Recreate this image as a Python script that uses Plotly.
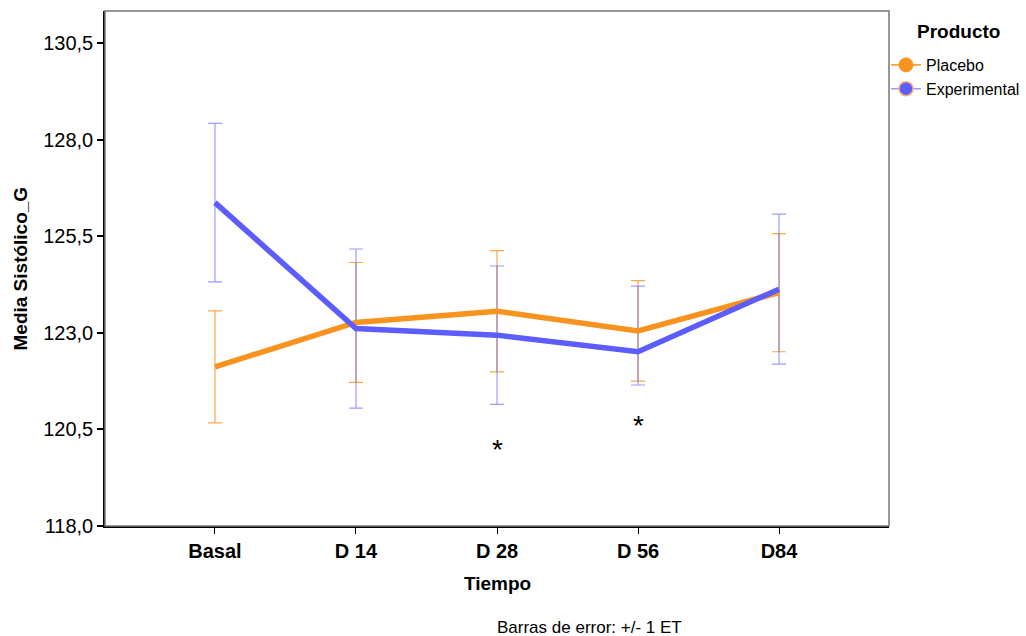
import plotly.graph_objects as go

# Mean systolic pressure by visit, with +/- 1 standard error
categories = ["Basal", "D 14", "D 28", "D 56", "D84"]
placebo_mean = [122.12, 123.27, 123.56, 123.05, 124.04]
placebo_se = [1.45, 1.55, 1.57, 1.30, 1.53]
exp_mean = [126.37, 123.11, 122.94, 122.51, 124.13]
exp_se_up = [2.05, 2.06, 1.79, 1.70, 1.94]
exp_se_down = [2.05, 2.06, 1.79, 0.86, 1.94]
significant = ["D 28", "D 56"]
star_y = [120.05, 120.69]

ORANGE = "#F7931E"
BLUE = "#5C5CFF"
FONT = "Liberation Sans, Arial, sans-serif"

fig = go.Figure()

# error bars first, so the mean lines sit on top
fig.add_trace(go.Scatter(
    x=categories, y=placebo_mean, mode="markers",
    marker=dict(size=1, opacity=0), showlegend=False, hoverinfo="skip",
    error_y=dict(type="data", array=placebo_se, color="rgba(247,147,30,0.8)",
                 thickness=1.2, width=7)))
fig.add_trace(go.Scatter(
    x=categories, y=exp_mean, mode="markers",
    marker=dict(size=1, opacity=0), showlegend=False, hoverinfo="skip",
    error_y=dict(type="data", symmetric=False, array=exp_se_up,
                 arrayminus=exp_se_down, color="rgba(92,92,255,0.6)",
                 thickness=1.2, width=7)))

fig.add_trace(go.Scatter(x=categories, y=placebo_mean, mode="lines",
                         line=dict(color=ORANGE, width=5.5), showlegend=False))
fig.add_trace(go.Scatter(x=categories, y=exp_mean, mode="lines",
                         line=dict(color=BLUE, width=5.5), showlegend=False))

# legend entries
fig.add_trace(go.Scatter(x=[None], y=[None], mode="lines+markers", name="Placebo",
                         line=dict(color=ORANGE, width=1.5),
                         marker=dict(color=ORANGE, size=14,
                                     line=dict(color=ORANGE, width=1))))
fig.add_trace(go.Scatter(x=[None], y=[None], mode="lines+markers", name="Experimental",
                         line=dict(color="#9999FF", width=1.5),
                         marker=dict(color=BLUE, size=14,
                                     line=dict(color="#F7B070", width=1.5))))

annotations = [
    dict(text="<b>Media Sistólico_G</b>", xref="paper", yref="paper",
         x=-0.1084, y=0.5, textangle=-90, showarrow=False,
         font=dict(size=19, color="black", family=FONT),
         xanchor="center", yanchor="middle"),
    dict(text="<b>Tiempo</b>", xref="paper", yref="paper",
         x=0.5, y=-0.1107, showarrow=False,
         font=dict(size=19, color="black", family=FONT),
         xanchor="center", yanchor="middle"),
    dict(text="Barras de error: +/- 1 ET", xref="paper", yref="paper",
         x=0.6186, y=-0.198, showarrow=False,
         font=dict(size=17, color="black", family=FONT),
         xanchor="center", yanchor="middle"),
    dict(text="<b>Producto</b>", xref="paper", yref="paper",
         x=(958 - 105) / 784, y=(526 - 32) / 515, showarrow=False,
         font=dict(size=19, color="black", family=FONT),
         xanchor="center", yanchor="middle"),
]
for cat, yv in zip(significant, star_y):
    annotations.append(dict(text="*", x=cat, y=yv, xref="x", yref="y",
                            showarrow=False, yshift=-3,
                            font=dict(size=28, color="black", family=FONT),
                            xanchor="center", yanchor="middle"))

fig.update_layout(
    width=1026, height=636,
    margin=dict(l=105, r=137, t=11, b=110, autoexpand=False),
    paper_bgcolor="white", plot_bgcolor="white",
    separators=",.",
    font=dict(family=FONT, color="black"),
    annotations=annotations,
    legend=dict(xref="container", yref="container",
                x=886 / 1026, y=1 - 48 / 636, xanchor="left", yanchor="top",
                font=dict(size=16, family=FONT),
                bgcolor="rgba(0,0,0,0)", tracegroupgap=0, itemwidth=30),
    shapes=[dict(type="rect", xref="paper", yref="paper", x0=0, y0=0, x1=1, y1=1,
                 line=dict(color="#777777", width=1.5), layer="above")],
)

fig.update_xaxes(
    type="category", categoryorder="array", categoryarray=categories,
    range=[-0.78, 4.78], showgrid=False, zeroline=False,
    showline=True, linecolor="black", linewidth=1.5,
    ticks="outside", ticklen=6, tickcolor="black", tickwidth=1,
    tickvals=categories, ticktext=[f"<b>{c}</b>" for c in categories],
    tickfont=dict(size=20, family=FONT, color="black"),
)
fig.update_yaxes(
    range=[118, 131.33], showgrid=False, zeroline=False,
    showline=True, linecolor="black", linewidth=1.5,
    ticks="outside", ticklen=6, tickcolor="black", tickwidth=1.5,
    tickvals=[118, 120.5, 123, 125.5, 128, 130.5], tickformat=".1f",
    tickfont=dict(size=20, family=FONT, color="black"),
)

fig.write_html("out.html")
